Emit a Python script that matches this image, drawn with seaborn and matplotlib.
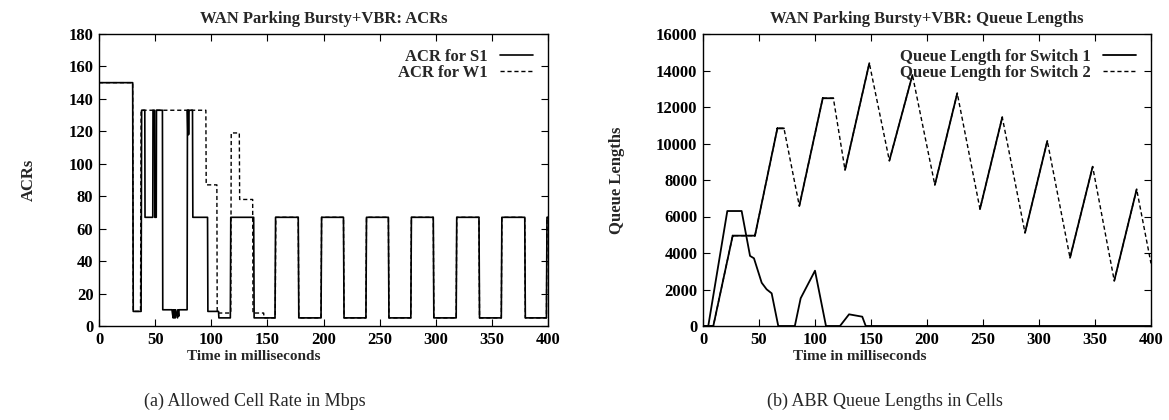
import numpy as np
import pandas as pd
import matplotlib
matplotlib.use("Agg")
import matplotlib.pyplot as plt
import seaborn as sns

# ---------------- data ----------------
acr_s1_time = [0, 30, 30.5, 37.5, 38, 40.8, 41, 47.9, 48.1, 49.5, 49.7, 51, 51.2, 56.5, 56.8,
               65, 66, 66.3, 67, 67.3, 68, 68.3, 70, 70.3, 71, 71.3, 78.5, 78.8, 79.2, 79.5,
               79.8, 80.1, 83.3, 83.6, 96.7, 97, 106.5, 106.8, 117, 117.4, 137.8, 138.2,
               156.8, 157.3, 177.5, 178, 197.8, 198.3, 217.8, 218.3, 237.8, 238.3, 257.8,
               258.3, 277.8, 278.3, 297.8, 298.3, 318.2, 318.7, 338.5, 339, 358.4, 358.9,
               379.3, 379.8, 398.6, 399.1, 400]
acr_s1_val = [150, 150, 9, 9, 133, 133, 67, 67, 133, 133, 67, 67, 133, 133, 10,
              10, 5, 10, 5, 10, 5, 10, 5, 10, 6, 10, 10, 133, 118, 133,
              118, 133, 133, 67, 67, 9, 9, 5, 5, 67, 67, 5,
              5, 67, 67, 5, 5, 67, 67, 5, 5, 67, 67,
              5, 5, 67, 67, 5, 5, 67, 67, 5, 5, 67,
              67, 5, 5, 67, 67]

acr_w1_time = [0, 30, 30.5, 37, 37.5, 95.2, 95.5, 105, 105.3, 117.4, 117.8, 125, 125.3,
               136.9, 137.2, 146.7, 147, 157, 157.5, 177.5, 178, 197.8, 198.3, 217.8,
               218.3, 237.8, 238.3, 257.8, 258.3, 277.8, 278.3, 297.8, 298.3, 318.2,
               318.7, 338.5, 339, 358.4, 358.9, 379.3, 379.8, 398.6, 399.1, 400]
acr_w1_val = [150, 150, 9, 9, 133, 133, 87, 87, 8, 8, 119, 119, 78,
              78, 8, 8, 5, 5, 67, 67, 5, 5, 67, 67,
              5, 5, 67, 67, 5, 5, 67, 67, 5, 5,
              67, 67, 5, 5, 67, 67, 5, 5, 67, 67]

q1_time = [0, 4.7, 21.7, 34.5, 42, 45.5, 52.4, 56.8, 61.3, 67.2, 82, 87.2, 100, 109.8,
           122.3, 130.4, 142.2, 145.3, 400]
q1_val = [0, 0, 6300, 6300, 3840, 3710, 2370, 2010, 1790, 0, 0, 1520, 3030, 0,
          0, 640, 510, 0, 0]

q2_time = [0, 9.2, 26.5, 46.4, 66.4, 72.3, 86, 106.9, 116.4, 126.8, 148.5, 166.4, 187,
           207, 227, 247.3, 267.2, 287.5, 307.4, 327.7, 347.9, 367.2, 387.2, 400]
q2_val = [0, 0, 4950, 4950, 10830, 10830, 6580, 12480, 12480, 8550, 14400, 9060, 13750,
          7730, 12750, 6410, 11440, 5110, 10140, 3740, 8730, 2480, 7490, 3430]

acr_yticks = [0, 20, 40, 60, 80, 100, 120, 140, 160, 180]
q_yticks = [0, 2000, 4000, 6000, 8000, 10000, 12000, 14000, 16000]
xticks = [0, 50, 100, 150, 200, 250, 300, 350, 400]

# ---------------- style ----------------
sns.set_theme(style="ticks")
plt.rcParams["font.family"] = ["Liberation Serif", "DejaVu Serif"]
plt.rcParams["font.weight"] = "bold"
plt.rcParams["axes.labelweight"] = "bold"
plt.rcParams["axes.titleweight"] = "bold"

FS = 12
DASH = (0, (3, 2))

fig = plt.figure(figsize=(11.69, 4.2), dpi=100)
W, H = 1169, 420


def axes_px(l, r, t, b):
    return fig.add_axes([l / W, 1 - b / H, (r - l) / W, (b - t) / H])


ax1 = axes_px(99, 548, 34, 326)
ax2 = axes_px(703, 1151, 34, 326)


def style_axes(ax, yticks, ymax):
    ax.set_xlim(0, 400)
    ax.set_ylim(0, ymax)
    ax.set_xticks(xticks)
    ax.set_yticks(yticks)
    ax.tick_params(direction="in", length=5, width=0.8, top=True, right=True,
                   labelsize=FS, pad=4, colors="black")
    for lab in ax.get_xticklabels() + ax.get_yticklabels():
        lab.set_fontweight("bold")
    for sp in ax.spines.values():
        sp.set_visible(True)
        sp.set_linewidth(1.0)
        sp.set_color("black")
    ax.grid(False)


def add_legend(ax):
    h, l = ax.get_legend_handles_labels()
    ax.legend([h[-1], h[0]], [l[-1], l[0]], loc="upper right",
              bbox_to_anchor=(1.0, 1.0), borderaxespad=0.0, borderpad=0.9,
              frameon=False, markerfirst=False, handlelength=2.0,
              handletextpad=0.7, labelspacing=0.0,
              prop={"weight": "bold", "size": FS})


# ---- left: ACRs ----
df_w1 = pd.DataFrame({"t": acr_w1_time, "v": acr_w1_val})
df_s1 = pd.DataFrame({"t": acr_s1_time, "v": acr_s1_val})
sns.lineplot(data=df_w1, x="t", y="v", ax=ax1, color="black", lw=1.0,
             linestyle=DASH, sort=False, estimator=None, label="ACR for W1")
sns.lineplot(data=df_s1, x="t", y="v", ax=ax1, color="black", lw=1.2,
             sort=False, estimator=None, label="ACR for S1")
style_axes(ax1, acr_yticks, 180)
ax1.set_title("WAN Parking Bursty+VBR: ACRs", fontsize=FS, fontweight="bold", pad=8)
ax1.set_xlabel("Time in milliseconds", fontsize=11, fontweight="bold")
ax1.set_ylabel("ACRs", fontsize=FS, fontweight="bold")
ax1.xaxis.set_label_coords(0.345, -0.082)
ax1.yaxis.set_label_coords(-0.138, 0.5)
add_legend(ax1)

# ---- right: Queue lengths ----
df_q1 = pd.DataFrame({"t": q1_time, "v": q1_val})
df_q2 = pd.DataFrame({"t": q2_time, "v": q2_val})
sns.lineplot(data=df_q2, x="t", y="v", ax=ax2, color="black", lw=1.0,
             linestyle=DASH, sort=False, estimator=None, label="Queue Length for Switch 2")
# rising segments of switch 2 rendered solid (as in the original rendering)
rt, rv = [], []
for i in range(len(q2_time) - 1):
    if q2_val[i + 1] >= q2_val[i]:
        rt += [q2_time[i], q2_time[i + 1], np.nan]
        rv += [q2_val[i], q2_val[i + 1], np.nan]
ax2.plot(rt, rv, color="black", lw=1.3)
sns.lineplot(data=df_q1, x="t", y="v", ax=ax2, color="black", lw=1.3,
             sort=False, estimator=None, label="Queue Length for Switch 1")
style_axes(ax2, q_yticks, 16000)
ax2.set_title("WAN Parking Bursty+VBR: Queue Lengths", fontsize=FS, fontweight="bold", pad=8)
ax2.set_xlabel("Time in milliseconds", fontsize=11, fontweight="bold")
ax2.set_ylabel("Queue Lengths", fontsize=FS, fontweight="bold")
ax2.xaxis.set_label_coords(0.35, -0.082)
ax2.yaxis.set_label_coords(-0.174, 0.5)
add_legend(ax2)

# captions
fig.text(255 / W, 1 - 401 / H, "(a) Allowed Cell Rate in Mbps", ha="center", va="center",
         fontsize=13, fontweight="normal", family=["Liberation Serif", "DejaVu Serif"])
fig.text(885 / W, 1 - 401 / H, "(b) ABR Queue Lengths in Cells", ha="center", va="center",
         fontsize=13, fontweight="normal", family=["Liberation Serif", "DejaVu Serif"])

fig.savefig("out.png", dpi=100, facecolor="white")
